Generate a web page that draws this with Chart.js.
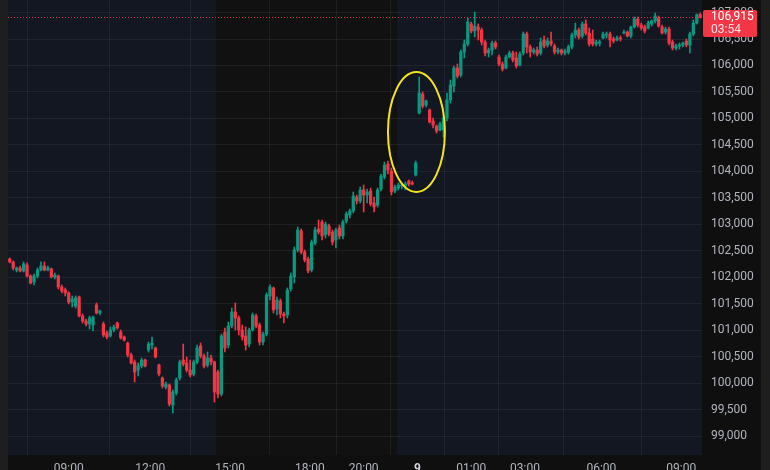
<!DOCTYPE html>
<html lang="en">
  <head>
    <meta charset="UTF-8" />
    <title>BTC 5m</title>
    <script src="https://cdn.jsdelivr.net/npm/chart.js"></script>
    <style>
      html, body {
        margin: 0;
        padding: 0;
        background: #0f0f0f;
      }
      .wrap {
        width: 770px;
        height: 470px;
        position: relative;
      }
    </style>
  </head>
  <body>
    <div class="wrap"><canvas id="candles"></canvas></div>

    <script>
      // OHLC, one entry per candle
      const open = [
        102349,102293,102141,102179,102123,102236,102028,101915,102028,102141,
        102217,102141,102160,102010,102028,101821,101764,101708,101537,101462,
        101632,101273,101179,101122,101103,101481,101330,101122,100952,100896,
        101009,101141,100971,100877,100763,100537,100405,100254,100329,100442,
        100631,100726,100669,100348,100103,99933,99971,99593,99820,100103,
        100442,100386,100254,100178,100405,100707,100518,100348,100480,100405,
        100216,99801,100971,100726,101084,101349,101235,101009,100896,100744,
        101009,101273,101103,100782,100933,101651,101802,101405,101556,101311,
        101292,101783,102010,102518,102877,102481,102349,102141,102650,102915,
        103047,102802,102971,102858,102707,102934,102783,103066,103179,103254,
        103519,103443,103651,103556,103632,103405,103368,103669,103896,104141,
        104009,103632,103688,103726,103726,103820,103783,103934,105104,105462,
        105255,105160,104953,104858,104783,104783,105009,105349,105613,105953,
        105821,106255,106406,106783,106651,106727,106670,106443,106236,106293,
        106425,106160,106028,105953,106160,106236,106142,106010,106236,106594,
        106349,106255,106293,106236,106481,106387,106462,106368,106255,106293,
        106236,106255,106349,106576,106670,106557,106783,106613,106500,106406,
        106425,106519,106576,106594,106500,106481,106519,106613,106632,106557,
        106727,106878,106764,106727,106708,106783,106840,106896,106727,106632,
        106689,106443,106330,106368,106387,106462,106387,106594,106802,106960
      ];
      const high = [
        102368,102311,102198,102217,102293,102274,102047,102066,102179,102293,
        102293,102217,102179,102085,102047,101859,101802,101727,101651,101651,
        101651,101311,101216,101273,101273,101518,101387,101160,100990,101065,
        101103,101160,101009,100896,100782,100574,100442,100386,100480,100461,
        100782,100877,100688,100367,100122,100027,99990,99876,100103,100442,
        100744,100499,100442,100442,100726,100763,100556,100593,100537,100424,
        100254,100933,101047,101160,101424,101518,101273,101103,101065,101047,
        101330,101311,101141,100971,101708,101859,101821,101632,101594,101349,
        101802,102085,102575,102952,102915,102518,102387,102707,102952,103085,
        103085,103047,103009,102896,102934,102990,103085,103236,103292,103613,
        103556,103707,103745,103669,103688,103519,103688,103953,104179,104198,
        104066,103745,103783,103783,103802,103839,103820,104198,105783,105500,
        105349,105179,105009,104877,104934,105047,105481,105726,105991,106028,
        106293,106481,106896,106821,107010,106783,106708,106481,106330,106462,
        106462,106198,106066,106198,106274,106274,106255,106255,106632,106632,
        106387,106330,106349,106519,106557,106519,106632,106406,106330,106311,
        106311,106387,106613,106802,106708,106821,106859,106708,106670,106481,
        106481,106632,106632,106632,106538,106557,106557,106670,106651,106745,
        106915,106915,106802,106764,106840,106859,106991,106934,106764,106727,
        106727,106481,106406,106425,106443,106500,106632,106859,106972,106990
      ];
      const low = [
        102274,102141,102104,102104,102104,102010,101878,101859,101991,102123,
        102123,102123,101991,101972,101783,101708,101651,101500,101443,101424,
        101254,101141,101084,101028,100990,101311,101292,100877,100839,100877,
        100971,101028,100839,100801,100499,100367,100027,100141,100292,100310,
        100593,100650,100480,100141,99914,99895,99574,99442,99782,100065,
        100329,100216,100122,100141,100367,100480,100292,100310,100348,99650,
        99725,99763,100593,100669,101047,101009,100914,100820,100631,100688,
        100990,101047,100726,100726,100896,101575,101330,101292,101235,101141,
        101235,101745,101896,102481,102443,102293,102085,102104,102613,102820,
        102707,102745,102783,102613,102556,102726,102726,103028,103122,103217,
        103387,103405,103236,103405,103349,103236,103330,103632,103858,103953,
        103556,103594,103651,103669,103651,103726,103745,103915,105085,105198,
        105217,104915,104821,104726,104764,104651,104953,105293,105500,105764,
        105783,106142,106368,106613,106538,106481,106387,106179,106160,106198,
        106311,105991,105896,105934,106142,106066,105953,105991,106198,106236,
        106160,106217,106179,106198,106330,106349,106368,106217,106217,106198,
        106198,106217,106311,106519,106500,106519,106576,106368,106368,106368,
        106368,106500,106519,106349,106425,106462,106462,106594,106538,106519,
        106708,106727,106670,106613,106689,106745,106802,106727,106594,106594,
        106387,106293,106293,106311,106349,106349,106236,106557,106783,106895
      ];
      const close = [
        102293,102179,102179,102123,102255,102028,101896,102028,102141,102217,
        102141,102179,102010,102047,101821,101745,101708,101537,101594,101613,
        101273,101179,101122,101235,101254,101330,101368,100914,100877,101009,
        101065,101047,100858,100820,100537,100386,100216,100329,100442,100329,
        100744,100763,100499,100178,99952,99990,99612,99839,100065,100405,
        100367,100254,100160,100405,100669,100518,100329,100480,100405,99839,
        99801,100896,100669,101084,101349,101235,101009,100877,100726,101009,
        101292,101084,100782,100933,101670,101821,101387,101575,101311,101273,
        101764,102028,102518,102896,102481,102330,102123,102669,102896,102858,
        102783,103009,102820,102669,102896,102783,103047,103198,103254,103537,
        103443,103651,103556,103613,103387,103330,103651,103915,104122,104028,
        103613,103707,103745,103735,103764,103764,103764,104160,105481,105236,
        105330,104934,104877,104764,104896,105009,105349,105632,105953,105802,
        106255,106406,106821,106651,106745,106670,106443,106236,106293,106425,
        106349,106028,105934,106160,106236,106104,105991,106217,106594,106349,
        106255,106293,106217,106443,106368,106462,106406,106255,106293,106236,
        106274,106349,106576,106670,106538,106783,106613,106406,106406,106443,
        106443,106594,106594,106481,106462,106519,106500,106632,106557,106727,
        106878,106764,106708,106651,106802,106840,106934,106745,106613,106689,
        106425,106330,106368,106387,106425,106387,106594,106802,106960,106915
      ];

      // time axis: candle index of each label
      const tickIndex = [17, 40.5, 63.5, 86.5, 102, 117.5, 133, 148.5, 170.5, 193.5];
      const tickLabels = ["09:00", "12:00", "15:00", "18:00", "20:00", "9", "01:00", "03:00", "06:00", "09:00"];

      // price axis ticks
      const priceTicks = [
        99000, 99500, 100000, 100500, 101000, 101500, 102000, 102500,
        103000, 103500, 104000, 104500, 105000, 105500, 106000, 106500, 107000
      ];

      // trading sessions (candle index ranges)
      const sessionFrom = [-0.5, 59.5, 111.5];
      const sessionTo = [59.5, 111.5, 199.5];
      const countdown = "03:54";

      // the circled spot: centre (candle index, price) and radii
      const circle = { x: 117.2, y: 104745, rx: 8.2, ry: 1130 };

      const UP = "#089981";
      const DOWN = "#f23645";
      const FONT = "Roboto, 'Liberation Sans', sans-serif";
      const sessionColor = ["#131722", "#111111", "#131722"];
      const gridColor = "rgba(255,255,255,0.06)";

      const colors = close.map((c, i) => (c >= open[i] ? UP : DOWN));
      const fmt = (v) => String(Math.round(v)).replace(/\B(?=(\d{3})+(?!\d))/g, ",");

      const decor = {
        id: "decor",
        beforeDraw(chart) {
          const { ctx, chartArea: a, scales } = chart;
          ctx.save();
          ctx.fillStyle = "#0f0f0f";
          ctx.fillRect(0, 0, chart.width, chart.height);
          // side strips
          ctx.fillStyle = "#1e1e1e";
          ctx.fillRect(0, 0, a.left, chart.height);
          ctx.fillRect(chart.width - 9, 0, 9, chart.height);
          sessionFrom.forEach((s, i) => {
            const x0 = scales.x.getPixelForValue(s);
            const x1 = scales.x.getPixelForValue(sessionTo[i]);
            ctx.fillStyle = sessionColor[i];
            ctx.fillRect(x0, a.top, x1 - x0, a.bottom - a.top);
          });
          ctx.restore();
        },
        afterDatasetsDraw(chart) {
          const { ctx, chartArea: a, scales } = chart;
          const last = close[close.length - 1];
          const py = Math.round(scales.y.getPixelForValue(last)) + 0.5;
          ctx.save();
          // last price line
          ctx.strokeStyle = "rgba(242,54,69,0.85)";
          ctx.lineWidth = 1;
          ctx.setLineDash([1, 2]);
          ctx.beginPath();
          ctx.moveTo(a.left, py);
          ctx.lineTo(a.right, py);
          ctx.stroke();
          ctx.setLineDash([]);
          // yellow ellipse
          const cx = scales.x.getPixelForValue(circle.x);
          const cy = scales.y.getPixelForValue(circle.y);
          const rx = scales.x.getPixelForValue(circle.x + circle.rx) - cx;
          const ry = cy - scales.y.getPixelForValue(circle.y + circle.ry);
          ctx.strokeStyle = "#f5e619";
          ctx.lineWidth = 2;
          ctx.beginPath();
          ctx.ellipse(cx, cy, rx, ry, 0, 0, Math.PI * 2);
          ctx.stroke();
          ctx.restore();
        },
        afterDraw(chart) {
          const { ctx, chartArea: a, scales } = chart;
          const last = close[close.length - 1];
          const py = scales.y.getPixelForValue(last);
          const x0 = a.right + 1;
          const y0 = Math.round(py - 7);
          ctx.save();
          ctx.fillStyle = DOWN;
          ctx.beginPath();
          ctx.roundRect(x0, y0, 54, 27, 2);
          ctx.fill();
          ctx.font = "12px " + FONT;
          ctx.textAlign = "left";
          ctx.textBaseline = "middle";
          ctx.fillStyle = "#ffffff";
          ctx.fillText(fmt(last), a.right + 9, y0 + 7);
          ctx.fillStyle = "rgba(255,255,255,0.85)";
          ctx.fillText(countdown, a.right + 9, y0 + 19.5);
          ctx.restore();
        },
      };

      new Chart(document.getElementById("candles"), {
        type: "bar",
        data: {
          datasets: [
            {
              label: "body",
              data: close.map((c, i) => ({ x: i, y: [open[i], c] })),
              backgroundColor: colors,
              barThickness: 2.6,
              minBarLength: 1,
              borderWidth: 0,
              grouped: false,
            },
            {
              label: "wick",
              data: close.map((c, i) => ({ x: i, y: [low[i], high[i]] })),
              backgroundColor: colors,
              barThickness: 1,
              borderWidth: 0,
              grouped: false,
            },
          ],
        },
        plugins: [decor],
        options: {
          responsive: true,
          maintainAspectRatio: false,
          animation: false,
          events: [],
          layout: { padding: { left: 8, right: 9, top: 0, bottom: 0 } },
          plugins: {
            legend: { display: false },
            tooltip: { enabled: false },
          },
          scales: {
            x: {
              type: "linear",
              min: -0.5,
              max: 199.5,
              offset: false,
              afterBuildTicks: (s) => {
                s.ticks = tickIndex.map((v) => ({ value: v }));
              },
              afterFit: (s) => {
                s.height = 15;
                s.paddingLeft = 0;
                s.paddingRight = 0;
              },
              grid: { color: gridColor, drawTicks: false },
              border: { display: false },
              ticks: {
                autoSkip: false,
                maxRotation: 0,
                padding: 7,
                callback: (v, i) => tickLabels[i],
                color: (c) => (c.index === 5 ? "#d1d4dc" : "#b2b5be"),
                font: (c) => ({ family: FONT, size: 12, weight: c.index === 5 ? "bold" : "normal" }),
              },
            },
            y: {
              position: "right",
              min: 98650,
              max: 107236,
              afterBuildTicks: (s) => {
                s.ticks = priceTicks.map((v) => ({ value: v }));
              },
              afterFit: (s) => {
                s.width = 59;
                s.paddingTop = 0;
                s.paddingBottom = 0;
              },
              grid: { color: gridColor, drawTicks: false },
              border: { display: false },
              ticks: {
                autoSkip: false,
                padding: 9,
                color: "#b2b5be",
                font: { family: FONT, size: 12 },
                callback: (v) => fmt(v),
              },
            },
          },
        },
      });
    </script>
  </body>
</html>
